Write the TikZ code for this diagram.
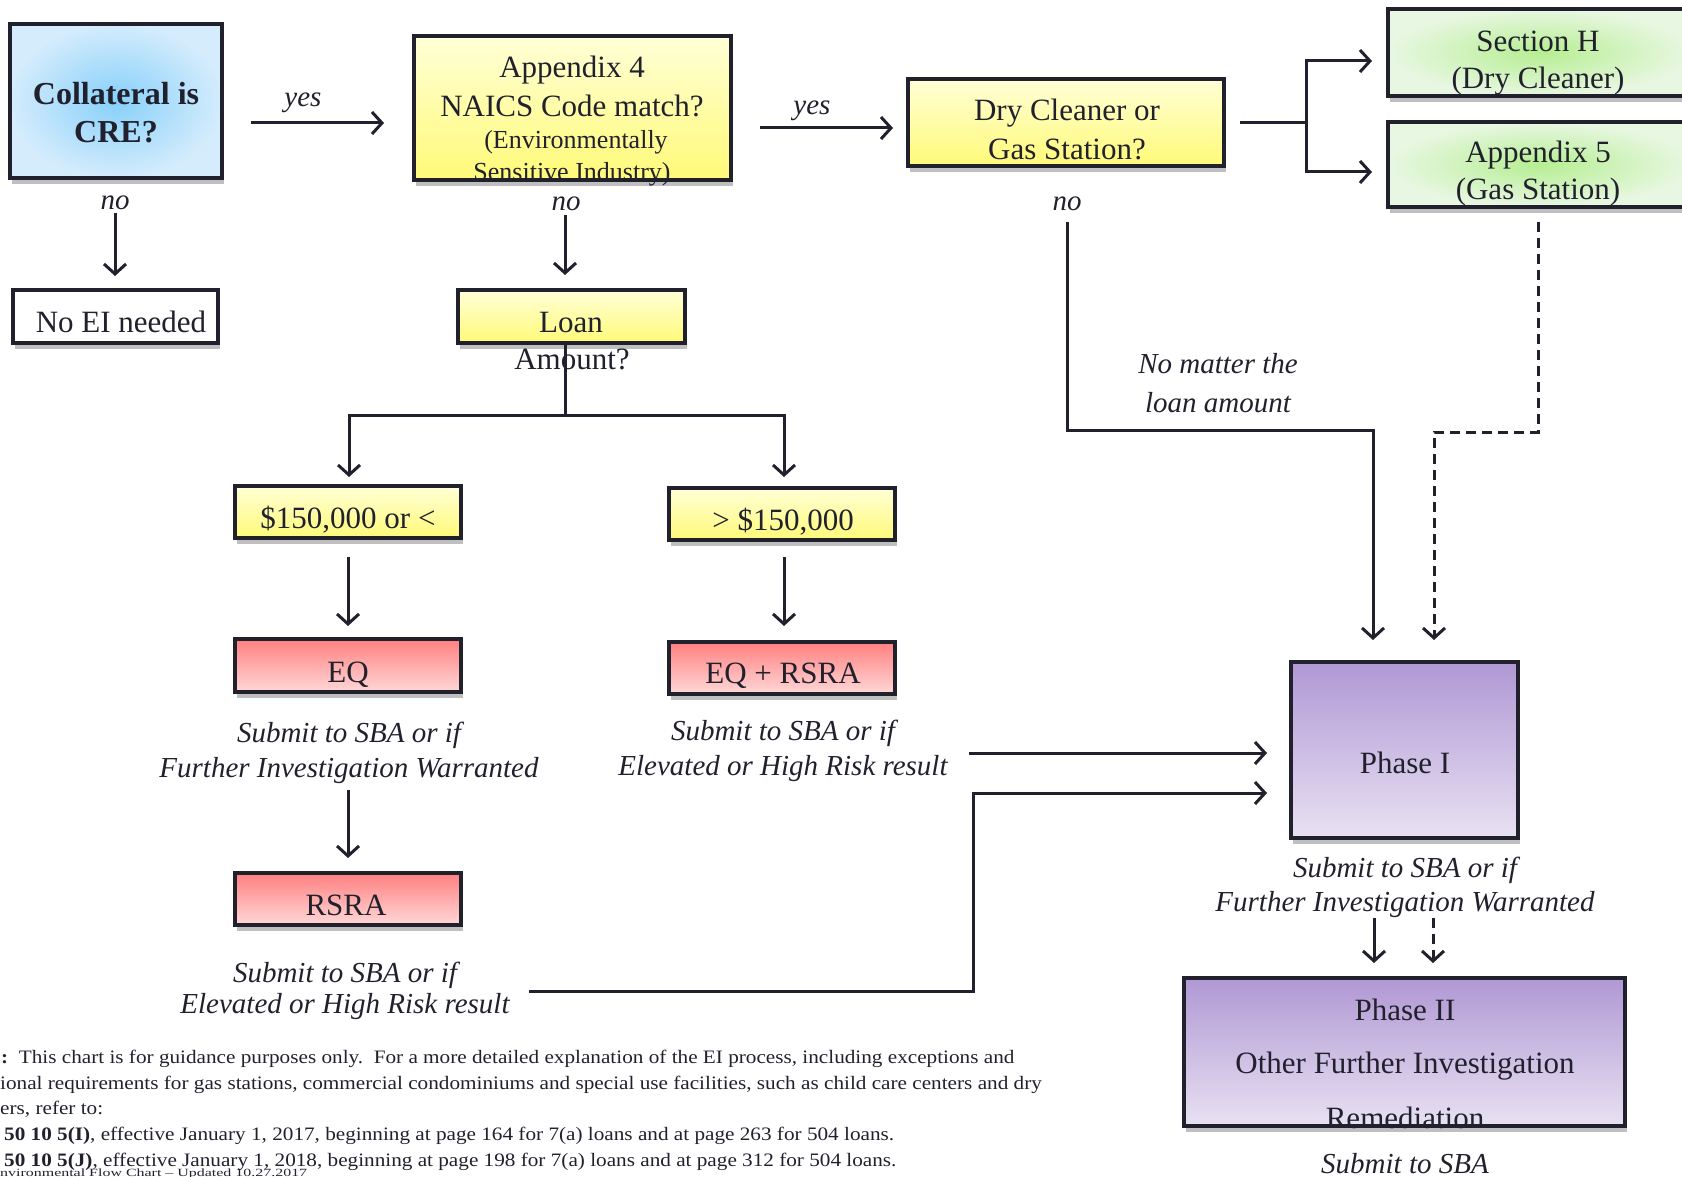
\documentclass[tikz,border=0pt]{standalone}
\usepackage{fontspec}
\setmainfont{Liberation Serif}
\usetikzlibrary{arrows.meta,shadows,fit}
\definecolor{ln}{RGB}{33,33,45}
\definecolor{bluein}{RGB}{135,208,250}
\definecolor{blueout}{RGB}{212,236,252}
\definecolor{yeltop}{RGB}{255,255,215}
\definecolor{yelbot}{RGB}{255,250,120}
\definecolor{grnmid}{RGB}{182,238,146}
\definecolor{grnside}{RGB}{232,247,226}
\definecolor{redtop}{RGB}{255,128,128}
\definecolor{redbot}{RGB}{255,215,215}
\definecolor{purtop}{RGB}{176,152,212}
\definecolor{purbot}{RGB}{232,225,242}
\begin{document}
\begin{tikzpicture}[x=1pt,y=-1pt,
  box/.style={draw=ln, line width=3.8pt, rectangle, inner sep=0pt,
    drop shadow={shadow xshift=2pt, shadow yshift=-6pt, opacity=0.25, fill=black}},
  bluebox/.style={box, inner color=bluein, outer color=blueout},
  whitebox/.style={box, fill=white},
  yelbox/.style={box, top color=yeltop, bottom color=yelbot},
  grnbox/.style={box, inner color=grnmid, outer color=grnside},
  redbox/.style={box, top color=redtop, bottom color=redbot},
  purbox/.style={box, top color=purtop, bottom color=purbot},
  txt/.style={anchor=base, inner sep=0pt, text=ln},
  big/.style={txt, font=\fontsize{31}{36}\selectfont},
  bigb/.style={txt, font=\fontsize{32}{36}\selectfont\bfseries},
  mid/.style={txt, font=\fontsize{26}{30}\selectfont},
  itl/.style={txt, font=\fontsize{29}{34}\selectfont\itshape},
  note/.style={txt, anchor=base west, font=\fontsize{19}{22}\selectfont},
  tiny/.style={txt, anchor=base west, font=\fontsize{11}{12}\selectfont},
  conn/.style={draw=ln, line width=3pt},
  arr/.style={conn, -{Straight Barb[length=10pt,width=22pt]}},
  darr/.style={arr, dash pattern=on 10pt off 6pt},
  dconn/.style={conn, dash pattern=on 10pt off 6pt}]
\useasboundingbox (0,0) rectangle (1682,1177);
\clip (0,0) rectangle (1682,1177);

% ---------- boxes ----------
\node[bluebox, fit={(10,24) (222,178)}] (cre) {};
\node[whitebox, fit={(13,290) (218,343)}] (noei) {};
\node[yelbox, fit={(414,36) (731,180)}] (app4) {};
\node[yelbox, fit={(458,290) (685,343)}] (loan) {};
\node[yelbox, fit={(908,79) (1224,166)}] (dry) {};
\node[grnbox, fit={(1388,9) (1692,96)}] (secH) {};
\node[grnbox, fit={(1388,122) (1692,207)}] (app5) {};
\node[yelbox, fit={(235,486) (461,538)}] (lo) {};
\node[yelbox, fit={(669,488) (895,540)}] (hi) {};
\node[redbox, fit={(235,639) (461,692)}] (eq) {};
\node[redbox, fit={(669,642) (895,694)}] (eqr) {};
\node[redbox, fit={(235,873) (461,925)}] (rsra) {};
\node[purbox, fit={(1291,662) (1518,838)}] (p1) {};
\node[purbox, fit={(1184,978) (1625,1126)}] (p2) {};

% ---------- box texts ----------
\node[bigb] (cre1) at (116,105) {Collateral is};
\node[bigb] (cre2) at (116,143) {CRE?};
\node[big] (noeit) at (121,332) {No EI needed};
\node[big] (a41) at (572,78) {Appendix 4};
\node[big] (a42) at (572,117) {NAICS Code match?};
\node[mid] (a43) at (576,149) {(Environmentally};
\node[mid] (a44) at (572,181) {Sensitive Industry)};
\node[big] (loan1) at (571,332) {Loan};
\node[big] (loan2) at (572,369) {Amount?};
\node[big] (dry1) at (1067,121) {Dry Cleaner or};
\node[big] (dry2) at (1067,160) {Gas Station?};
\node[big] (sh1) at (1538,52) {Section H};
\node[big] (sh2) at (1538,89) {(Dry Cleaner)};
\node[big] (a51) at (1538,163) {Appendix 5};
\node[big] (a52) at (1538,200) {(Gas Station)};
\node[big] (lot) at (348,528) {\$150,000 or <};
\node[big] (hit) at (783,530) {> \$150,000};
\node[big] (eqt) at (348,682) {EQ};
\node[big] (eqrt) at (783,683) {EQ + RSRA};
\node[big] (rsrat) at (346,915) {RSRA};
\node[big] (p1t) at (1405,773) {Phase I};
\node[big] (p2a) at (1405,1020) {Phase II};
\node[big] (p2b) at (1405,1073) {Other Further Investigation};
\node[big] (p2c) at (1405,1128) {Remediation};

% ---------- italic labels ----------
\node[itl] (yes1) at (303,107) {yes};
\node[itl] (yes2) at (812,115) {yes};
\node[itl] (no1) at (115,210) {no};
\node[itl] (no2) at (566,211) {no};
\node[itl] (no3) at (1067,211) {no};
\node[itl] (s1a) at (349,742) {Submit to SBA or if};
\node[itl] (s1b) at (349,777) {Further Investigation Warranted};
\node[itl] (s2a) at (783,740) {Submit to SBA or if};
\node[itl] (s2b) at (783,775) {Elevated or High Risk result};
\node[itl] (s3a) at (345,982) {Submit to SBA or if};
\node[itl] (s3b) at (345,1013) {Elevated or High Risk result};
\node[itl] (nm1) at (1218,373) {No matter the};
\node[itl] (nm2) at (1218,412) {loan amount};
\node[itl] (s4a) at (1405,877) {Submit to SBA or if};
\node[itl] (s4b) at (1405,911) {Further Investigation Warranted};
\node[itl] (s5) at (1405,1173) {Submit to SBA};

% ---------- connectors ----------
\coordinate (c1s) at (251,123); \coordinate (c1e) at (384,123);
\draw[arr] (c1s) -- (c1e);
\coordinate (c2s) at (115,213); \coordinate (c2e) at (115,276);
\draw[arr] (c2s) -- (c2e);
\coordinate (c3s) at (760,128); \coordinate (c3e) at (893,128);
\draw[arr] (c3s) -- (c3e);
\coordinate (c4s) at (565,215); \coordinate (c4e) at (565,275);
\draw[arr] (c4s) -- (c4e);
\coordinate (lsplit) at (565,415);
\coordinate (loE) at (349,477); \coordinate (hiE) at (784,477);
\draw[conn] (565,343) -- (lsplit);
\draw[arr] (lsplit) -| (loE);
\draw[arr] (lsplit) -| (hiE);
\coordinate (c5s) at (348,557); \coordinate (c5e) at (348,626);
\draw[arr] (c5s) -- (c5e);
\coordinate (c6s) at (784,557); \coordinate (c6e) at (784,626);
\draw[arr] (c6s) -- (c6e);
\coordinate (c7s) at (348,790); \coordinate (c7e) at (348,858);
\draw[arr] (c7s) -- (c7e);
\coordinate (dsplit) at (1306,123); \coordinate (dS) at (1240,123);
\coordinate (toH) at (1372,61); \coordinate (to5) at (1372,172);
\draw[conn] (dS) -- (dsplit);
\draw[arr] (dsplit) |- (toH);
\draw[arr] (dsplit) |- (to5);
\coordinate (n3s) at (1067,222); \coordinate (n3m) at (1067,430); \coordinate (n3e) at (1373,640);
\draw[arr] (n3s) -- (n3m) -| (n3e);
\coordinate (g5s) at (1538,222); \coordinate (g5m) at (1538,432); \coordinate (g5e) at (1434,640);
\draw[darr] (g5s) -- (g5m) -| (g5e);
\coordinate (e2s) at (969,753); \coordinate (e2e) at (1267,753);
\draw[arr] (e2s) -- (e2e);
\coordinate (r3s) at (529,991); \coordinate (r3m) at (973,991); \coordinate (r3e) at (1267,793);
\draw[arr] (r3s) -- (r3m) |- (r3e);
\coordinate (p1a) at (1374,918); \coordinate (p1b) at (1374,963);
\draw[arr] (p1a) -- (p1b);
\coordinate (p1c) at (1433,918); \coordinate (p1d) at (1433,963);
\draw[darr] (p1c) -- (p1d);

% ---------- footnote ----------
\node[note] (f1) at (1,1063) {\scalebox{1.116}[1]{\textbf{:}\ \ This chart is for guidance purposes only.\ \ For a more detailed explanation of the EI process, including exceptions and}};
\node[note] (f2) at (0,1089) {\scalebox{1.116}[1]{ional requirements for gas stations, commercial condominiums and special use facilities, such as child care centers and dry}};
\node[note] (f3) at (0,1114) {\scalebox{1.116}[1]{ers, refer to:}};
\node[note] (f4) at (4,1140) {\scalebox{1.116}[1]{\textbf{50 10 5(I)}, effective January 1, 2017, beginning at page 164 for 7(a) loans and at page 263 for 504 loans.}};
\node[note] (f5) at (4,1166) {\scalebox{1.116}[1]{\textbf{50 10 5(J)}, effective January 1, 2018, beginning at page 198 for 7(a) loans and at page 312 for 504 loans.}};
\node[tiny] (f6) at (0,1176) {\scalebox{1.45}[1]{nvironmental Flow Chart – Updated 10.27.2017}};
\end{tikzpicture}
\end{document}
